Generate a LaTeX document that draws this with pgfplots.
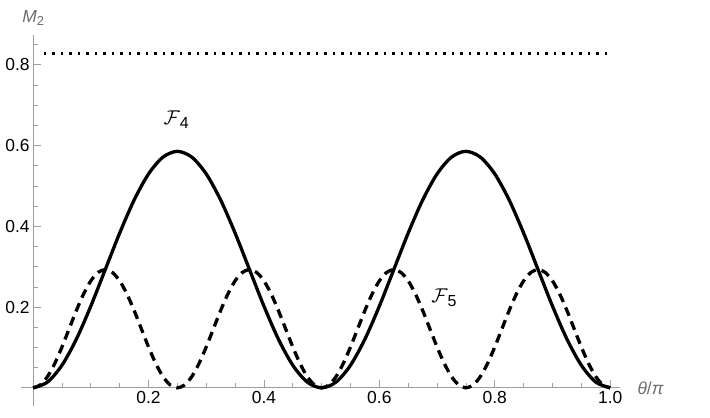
\documentclass[border=0pt]{standalone}
\usepackage{pgfplots}
\pgfplotsset{compat=1.18}
\usepackage{fontspec}
\setmainfont{Liberation Sans}
\definecolor{axgray}{gray}{0.62}
\definecolor{labgray}{gray}{0.42}
\newcommand{\Flab}[1]{\scalebox{2.0}{$\mathcal{F}$}\raisebox{-0.75ex}{\fontsize{16}{16}\selectfont #1}}
\begin{document}
\begin{tikzpicture}
\begin{axis}[
  name=ax,
  scale only axis, width=599bp, height=371bp,
  xmin=-0.021, xmax=1.017, ymin=-0.045, ymax=0.874,
  axis lines=middle,
  axis line style={axgray, line width=0.8bp, -},
  xtick={0.2,0.4,0.6,0.8,1.0}, ytick={0.2,0.4,0.6,0.8},
  minor xtick={0.05,0.1,0.15,0.25,0.3,0.35,0.45,0.5,0.55,0.65,0.7,0.75,0.85,0.9,0.95},
  minor ytick={0.05,0.1,0.15,0.25,0.3,0.35,0.45,0.5,0.55,0.65,0.7,0.75,0.85},
  tick align=inside,
  major tick length=8bp, minor tick length=5bp,
  every tick/.style={axgray, line width=0.8bp},
  /pgf/number format/assume math mode=true,
  /pgf/number format/.cd, fixed, fixed zerofill, precision=1, /pgfplots/.cd,
  ticklabel style={font=\fontsize{17.5}{20}\selectfont, text=black},
  xlabel={\textit{θ}/\textit{π}},
  ylabel={\textit{M}\raisebox{-0.35ex}{\fontsize{13}{14}\selectfont 2}},
  xlabel style={font=\fontsize{17.5}{20}\selectfont, text=labgray, anchor=west, xshift=14bp},
  ylabel style={font=\fontsize{17.5}{20}\selectfont, text=labgray, anchor=south, yshift=6bp},
  clip=false,
]
% F4
\addplot[black, line width=3.3bp, smooth] coordinates {
(0,0) (0.025,0.01433) (0.05,0.05594) (0.075,0.12074) (0.1,0.20239) (0.125,0.2929)
(0.15,0.38341) (0.175,0.46506) (0.2,0.52986) (0.225,0.57147) (0.25,0.5858)
(0.275,0.57147) (0.3,0.52986) (0.325,0.46506) (0.35,0.38341) (0.375,0.2929)
(0.4,0.20239) (0.425,0.12074) (0.45,0.05594) (0.475,0.01433) (0.5,0)
(0.525,0.01433) (0.55,0.05594) (0.575,0.12074) (0.6,0.20239) (0.625,0.2929)
(0.65,0.38341) (0.675,0.46506) (0.7,0.52986) (0.725,0.57147) (0.75,0.5858)
(0.775,0.57147) (0.8,0.52986) (0.825,0.46506) (0.85,0.38341) (0.875,0.2929)
(0.9,0.20239) (0.925,0.12074) (0.95,0.05594) (0.975,0.01433) (1,0)
};
% F5
\addplot[black, line width=3.3bp, smooth, dash pattern=on 9bp off 6bp] coordinates {
(0,0) (0.0125,0.00717) (0.025,0.02797) (0.0375,0.06037) (0.05,0.10119) (0.0625,0.14645)
(0.075,0.19171) (0.0875,0.23253) (0.1,0.26493) (0.1125,0.28573) (0.125,0.2929)
(0.1375,0.28573) (0.15,0.26493) (0.1625,0.23253) (0.175,0.19171) (0.1875,0.14645)
(0.2,0.10119) (0.2125,0.06037) (0.225,0.02797) (0.2375,0.00717) (0.25,0)
(0.2625,0.00717) (0.275,0.02797) (0.2875,0.06037) (0.3,0.10119) (0.3125,0.14645)
(0.325,0.19171) (0.3375,0.23253) (0.35,0.26493) (0.3625,0.28573) (0.375,0.2929)
(0.3875,0.28573) (0.4,0.26493) (0.4125,0.23253) (0.425,0.19171) (0.4375,0.14645)
(0.45,0.10119) (0.4625,0.06037) (0.475,0.02797) (0.4875,0.00717) (0.5,0)
(0.5125,0.00717) (0.525,0.02797) (0.5375,0.06037) (0.55,0.10119) (0.5625,0.14645)
(0.575,0.19171) (0.5875,0.23253) (0.6,0.26493) (0.6125,0.28573) (0.625,0.2929)
(0.6375,0.28573) (0.65,0.26493) (0.6625,0.23253) (0.675,0.19171) (0.6875,0.14645)
(0.7,0.10119) (0.7125,0.06037) (0.725,0.02797) (0.7375,0.00717) (0.75,0)
(0.7625,0.00717) (0.775,0.02797) (0.7875,0.06037) (0.8,0.10119) (0.8125,0.14645)
(0.825,0.19171) (0.8375,0.23253) (0.85,0.26493) (0.8625,0.28573) (0.875,0.2929)
(0.8875,0.28573) (0.9,0.26493) (0.9125,0.23253) (0.925,0.19171) (0.9375,0.14645)
(0.95,0.10119) (0.9625,0.06037) (0.975,0.02797) (0.9875,0.00717) (1,0)
};
% constant
\addplot[black, line width=3.2bp, dash pattern=on 2.5bp off 6bp] coordinates {(0.018,0.828) (1,0.828)};
\node at (axis cs:0.248,0.664) {\Flab{4}};
\node at (axis cs:0.712,0.222) {\Flab{5}};
\end{axis}
\pgfresetboundingbox
\path[use as bounding box] ([shift={(-21bp,-12bp)}]ax.south west) rectangle ([shift={(689bp,406bp)}]ax.south west);
\end{tikzpicture}
\end{document}
